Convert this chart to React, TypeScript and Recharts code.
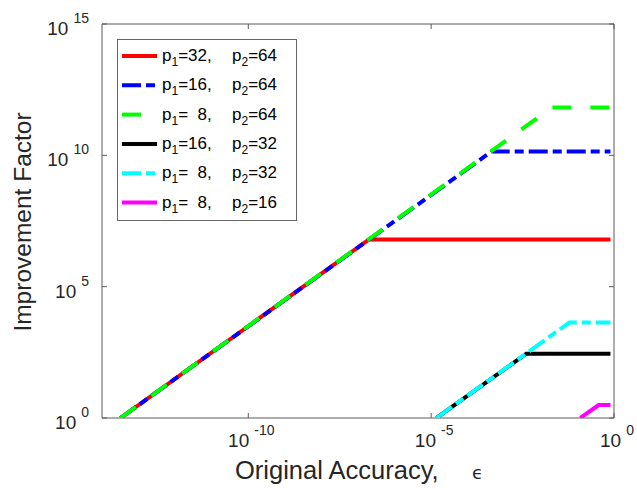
import React from "react";
import { LineChart, Line, XAxis, YAxis, ReferenceArea } from "recharts";

// original accuracy (x) and improvement factor (y) per configuration
const epsRed = [3.2e-14, 2e-7, 0.8];
const gainRed = [1, 6.3e6, 6.3e6];
const epsBlue = [3.2e-14, 4.5e-4, 0.8];
const gainBlue = [1, 1.4e10, 1.4e10];
const epsGreen = [3.2e-14, 2e-2, 0.8];
const gainGreen = [1, 6.6e11, 6.6e11];
const epsBlack = [1.4e-5, 4e-3, 0.8];
const gainBlack = [1, 2.8e2, 2.8e2];
const epsCyan = [1.4e-5, 6e-2, 0.8];
const gainCyan = [1, 4.3e3, 4.3e3];
const epsMagenta = [0.12, 0.38, 0.8];
const gainMagenta = [1, 3.1, 3.1];

const xTicks = [1e-10, 1e-5, 1];
const yTicks = [1, 1e5, 1e10, 1e15];

const legendP1 = ["=32,", "=16,", "=  8,", "=16,", "=  8,", "=  8,"];
const legendP2 = ["=64", "=64", "=64", "=32", "=32", "=16"];

const W = 637;
const H = 489;
const M = { top: 24, right: 23, bottom: 70, left: 101 };
const PLOT_L = 102;
const PLOT_T = 24;
const PLOT_R = W - M.right;
const PLOT_B = 418;
const FONT = "'Liberation Sans', Arial, Helvetica, sans-serif";
const AXIS = "#5a5a5a";

const toPts = (xs: number[], ys: number[]) => xs.map((x, i) => ({ x, y: ys[i] }));

const series = [
  { name: "red", data: toPts(epsRed, gainRed), color: "#ff0000", dash: undefined },
  { name: "blue", data: toPts(epsBlue, gainBlue), color: "#0000ff", dash: "19 5 9 5" },
  { name: "green", data: toPts(epsGreen, gainGreen), color: "#00ff00", dash: "19 19" },
  { name: "black", data: toPts(epsBlack, gainBlack), color: "#000000", dash: undefined },
  { name: "cyan", data: toPts(epsCyan, gainCyan), color: "#00ffff", dash: "19 5 9 5" },
  { name: "magenta", data: toPts(epsMagenta, gainMagenta), color: "#ff00ff", dash: undefined },
];

const renderXTick = (props: any) => {
  const { x, payload } = props;
  const exp = Math.round(Math.log10(payload.value));
  return (
    <g key={`xt-${exp}`}>
      <line x1={x} x2={x} y1={PLOT_B} y2={PLOT_B - 5} stroke={AXIS} />
      <line x1={x} x2={x} y1={PLOT_T} y2={PLOT_T + 5} stroke={AXIS} />
      <text x={x + 3} y={447} textAnchor="middle" fontFamily={FONT} fontSize={19} fill="#262626">
        10
        <tspan dx={5} dy={-12} fontSize={14}>{exp}</tspan>
      </text>
    </g>
  );
};

const renderYTick = (props: any) => {
  const { y, payload } = props;
  const exp = Math.round(Math.log10(payload.value));
  return (
    <g key={`yt-${exp}`}>
      <line x1={PLOT_L} x2={PLOT_L + 5} y1={y} y2={y} stroke={AXIS} />
      <line x1={PLOT_R} x2={PLOT_R - 5} y1={y} y2={y} stroke={AXIS} />
      <text x={PLOT_L - 13} y={y + 11} textAnchor="end" fontFamily={FONT} fontSize={19} fill="#262626">
        10
        <tspan dx={5} dy={-12} fontSize={14}>{exp}</tspan>
      </text>
    </g>
  );
};

function Legend() {
  const x0 = 117;
  const y0 = 39;
  return (
    <g fontFamily={FONT} fill="#000">
      <rect x={x0 + 0.5} y={y0 + 0.5} width={179} height={181} fill="#fff" stroke="#666" />
      {series.map((s, i) => {
        const cy = 56 + i * 29.3;
        return (
          <g key={s.name}>
            <line
              x1={122}
              x2={157}
              y1={cy}
              y2={cy}
              stroke={s.color}
              strokeWidth={4}
              strokeDasharray={s.dash}
            />
            <text x={162} y={cy + 5} fontSize={17} style={{ whiteSpace: "pre" }}>
              p<tspan dy={5} fontSize={12}>1</tspan>
              <tspan dy={-5}>{legendP1[i]}</tspan>
            </text>
            <text x={232} y={cy + 5} fontSize={17} style={{ whiteSpace: "pre" }}>
              p<tspan dy={5} fontSize={12}>2</tspan>
              <tspan dy={-5}>{legendP2[i]}</tspan>
            </text>
          </g>
        );
      })}
    </g>
  );
}

export default function App() {
  return (
    <div style={{ position: "absolute", left: 0, top: 0, width: W, height: H, background: "#fff" }}>
      <LineChart width={W} height={H} margin={M}>
        <XAxis
          dataKey="x"
          type="number"
          scale="log"
          domain={[1e-14, 1]}
          ticks={xTicks}
          allowDataOverflow
          height={1}
          axisLine={false}
          tickLine={false}
          tickSize={0}
          tick={renderXTick}
          interval={0}
        />
        <YAxis
          dataKey="y"
          type="number"
          scale="log"
          domain={[1, 1e15]}
          ticks={yTicks}
          allowDataOverflow
          width={1}
          axisLine={false}
          tickLine={false}
          tickSize={0}
          tick={renderYTick}
          interval={0}
        />
        <ReferenceArea x1={1e-14} x2={1} y1={1} y2={1e15} fill="none" stroke={AXIS} strokeWidth={1} />
        {series.map((s) => (
          <Line
            key={s.name}
            data={s.data}
            dataKey="y"
            type="linear"
            stroke={s.color}
            strokeWidth={4}
            strokeDasharray={s.dash}
            strokeLinecap="butt"
            dot={false}
            activeDot={false}
            isAnimationActive={false}
          />
        ))}
      </LineChart>
      <svg
        width={W}
        height={H}
        style={{ position: "absolute", left: 0, top: 0, pointerEvents: "none" }}
      >
        <Legend />
        <text
          x={31}
          y={222}
          transform="rotate(-90 31 222)"
          textAnchor="middle"
          fontFamily={FONT}
          fontSize={24.5}
          fill="#262626"
        >
          Improvement Factor
        </text>
        <text x={235} y={479} fontFamily={FONT} fontSize={25.5} fill="#262626">
          Original Accuracy,
        </text>
        <text x={472} y={479} fontFamily="'DejaVu Sans', sans-serif" fontSize={18} fill="#262626">
          ϵ
        </text>
      </svg>
    </div>
  );
}
